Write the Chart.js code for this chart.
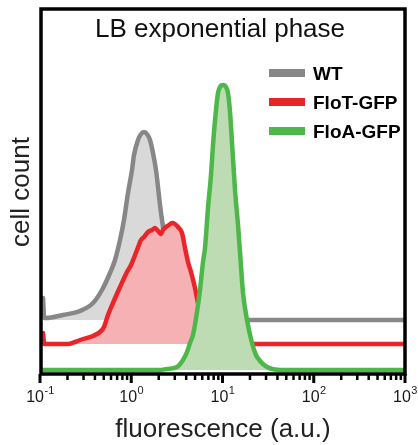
<!DOCTYPE html>
<html>
<head>
<meta charset="utf-8">
<script src="https://cdn.jsdelivr.net/npm/chart.js@4/dist/chart.umd.min.js"></script>
<style>
  html, body { margin: 0; padding: 0; background: #ffffff; }
  canvas { display: block; }
</style>
</head>
<body>
<canvas id="chart" width="418" height="445"></canvas>
<script>
// Flow cytometry histograms, LB exponential phase
const seriesNames = ['WT', 'FloT-GFP', 'FloA-GFP'];

// WT (autofluorescence control)
const wtFluor = [0.1079, 0.1113, 0.1164, 0.1786, 0.2742, 0.3811, 0.4777, 0.5848, 0.6637, 0.7532,
  0.8325, 0.9212, 1.019, 1.072, 1.186, 1.279, 1.379, 1.488, 1.605, 1.731,
  1.867, 1.964, 2.066, 2.173, 2.403, 2.797, 3.421, 4.404, 5.667, 8.277, 20.01, 1000];
const wtCount = [22, 2, 2, 5, 9, 17, 30, 47, 60, 80,
  100, 127, 150, 165, 180, 186, 188, 186, 180, 167,
  150, 133, 115, 100, 75, 50, 28, 12, 4, 1, 0, 0];

// FloT-GFP
const flotFluor = [0.1079, 0.1113, 0.2026, 0.2418, 0.2742, 0.3811, 0.4545, 0.5028, 0.5561, 0.6310,
  0.7532, 0.8982, 0.9938, 1.156, 1.279, 1.379, 1.526, 1.688, 1.821, 1.964,
  2.118, 2.228, 2.403, 2.593, 2.797, 3.017, 3.253, 3.599, 3.882, 4.187,
  4.517, 4.995, 5.390, 6.114, 7.295, 9.389, 13.71, 21.05, 1000];
const flotCount = [11, 0, 0, 2, 4, 8, 12, 17, 29, 41,
  57, 72, 79, 94, 104, 107, 112, 114, 116, 113,
  110, 114, 117, 119, 121, 120, 117, 111, 96, 82,
  72, 56, 41, 26, 14, 6, 2, 0, 0];

// FloA-GFP
const floaFluor = [0.1, 2.066, 2.465, 3.172, 3.692, 4.083, 4.404, 4.751, 5.254, 5.667,
  6.114, 6.430, 6.936, 7.482, 7.869, 8.488, 8.928, 9.389, 10.13, 10.92,
  11.49, 12.08, 13.03, 13.71, 14.79, 15.55, 16.78, 18.56, 21.05, 23.28,
  25.76, 30.74, 42.67, 1000];
const floaCount = [0, 0, 1, 3, 10, 18, 27, 35, 58, 80,
  108, 122, 162, 195, 225, 260, 277, 283, 285, 283,
  277, 258, 212, 180, 145, 118, 77, 50, 27, 15,
  9, 3, 0, 0];

// vertical offset of each histogram (offset overlay)
const seriesOffsets = [54, 30, 4];

// x axis decades
const xTickValues = [0.1, 1, 10, 100, 1000];
const xTickExponents = ['-1', '0', '1', '2', '3'];

const lineColors = ['#878787', '#ea2529', '#4db849'];
const fillColors = ['#d9d9d9', '#f5b1b3', '#bddcb3'];

const FONT = '"Liberation Sans", Arial, Helvetica, sans-serif';

function toPoints(xs, ys, offset) {
  return xs.map((x, i) => ({ x: x, y: ys[i] + offset }));
}

const fluorSets = [wtFluor, flotFluor, floaFluor];
const countSets = [wtCount, flotCount, floaCount];

const datasets = seriesNames.map((name, i) => ({
  label: name,
  data: toPoints(fluorSets[i], countSets[i], seriesOffsets[i]),
  borderColor: lineColors[i],
  backgroundColor: fillColors[i],
  borderWidth: 4.5,
  borderJoinStyle: 'round',
  borderCapStyle: 'round',
  pointRadius: 0,
  cubicInterpolationMode: 'monotone',
  fill: { value: seriesOffsets[i] },
  order: seriesNames.length - i
}));

// frame, axis decorations, titles and legend
const decorations = {
  id: 'decorations',
  afterDraw(chart) {
    const ctx = chart.ctx;
    const area = chart.chartArea;
    const xs = chart.scales.x;
    ctx.save();

    // frame around the plot
    ctx.strokeStyle = '#000';
    ctx.lineWidth = 3.5;
    ctx.lineJoin = 'miter';
    ctx.strokeRect(area.left + 1, area.top, area.right - area.left - 1, area.bottom - area.top);

    // minor ticks
    ctx.lineWidth = 2.5;
    for (let d = -1; d < 3; d++) {
      for (let m = 2; m <= 9; m++) {
        const px = xs.getPixelForValue(m * Math.pow(10, d));
        ctx.beginPath();
        ctx.moveTo(px, area.bottom);
        ctx.lineTo(px, area.bottom + 6);
        ctx.stroke();
      }
    }
    // major ticks and labels
    ctx.lineWidth = 3;
    ctx.fillStyle = '#1a1a1a';
    xTickValues.forEach((v, i) => {
      const px = xs.getPixelForValue(v);
      ctx.beginPath();
      ctx.moveTo(px, area.bottom);
      ctx.lineTo(px, area.bottom + 9);
      ctx.stroke();

      ctx.font = '16px ' + FONT;
      const baseW = ctx.measureText('10').width;
      ctx.font = '11px ' + FONT;
      const expW = ctx.measureText(xTickExponents[i]).width;
      const left = px - (baseW + expW) / 2;
      ctx.textAlign = 'left';
      ctx.textBaseline = 'alphabetic';
      ctx.font = '16px ' + FONT;
      ctx.fillText('10', left, 402);
      ctx.font = '11px ' + FONT;
      ctx.fillText(xTickExponents[i], left + baseW + 0.5, 394);
    });

    // axis titles
    ctx.fillStyle = '#222';
    ctx.font = '26px ' + FONT;
    ctx.textAlign = 'center';
    ctx.fillText('fluorescence (a.u.)', 223, 437);
    ctx.save();
    ctx.translate(29, 192);
    ctx.rotate(-Math.PI / 2);
    ctx.fillText('cell count', 0, 0);
    ctx.restore();

    // title inside the frame
    ctx.fillStyle = '#111';
    ctx.font = '26px ' + FONT;
    ctx.fillText('LB exponential phase', 220, 37);

    // legend
    const legendY = [73, 102, 131];
    seriesNames.forEach((name, i) => {
      ctx.fillStyle = lineColors[i];
      ctx.fillRect(269, legendY[i] - 4, 36, 8);
      ctx.fillStyle = '#000';
      ctx.font = 'bold 19px ' + FONT;
      ctx.textAlign = 'left';
      ctx.fillText(name, 313, legendY[i] + 7);
    });

    ctx.restore();
  }
};

new Chart(document.getElementById('chart'), {
  type: 'line',
  data: { datasets: datasets },
  options: {
    responsive: false,
    devicePixelRatio: 1,
    animation: false,
    events: [],
    layout: { padding: { left: 40, right: 13, top: 9, bottom: 71 } },
    scales: {
      x: { type: 'logarithmic', min: 0.1, max: 1000, display: false },
      y: { type: 'linear', min: 0, max: 365, display: false }
    },
    plugins: {
      legend: { display: false },
      title: { display: false },
      tooltip: { enabled: false }
    }
  },
  plugins: [decorations]
});
</script>
</body>
</html>
